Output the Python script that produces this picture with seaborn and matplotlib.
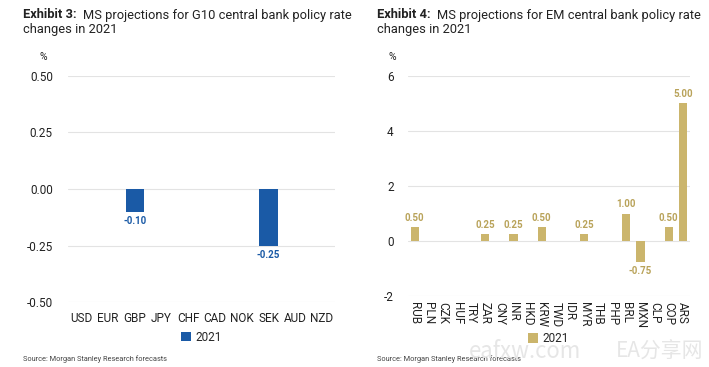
import pandas as pd
import seaborn as sns
import matplotlib.pyplot as plt

# --------------------------
# Data
# --------------------------
g10_ccy = ["USD", "EUR", "GBP", "JPY", "CHF", "CAD", "NOK", "SEK", "AUD", "NZD"]
g10_chg = [0, 0, -0.10, 0, 0, 0, 0, -0.25, 0, 0]

em_ccy = ["RUB", "PLN", "CZK", "HUF", "TRY", "ZAR", "CNY", "INR", "HKD", "KRW",
          "TWD", "IDR", "MYR", "THB", "PHP", "BRL", "MXN", "CLP", "COP", "ARS"]
em_chg = [0.50, 0, 0, 0, 0, 0.25, 0, 0.25, 0, 0.50,
          0, 0, 0.25, 0, 0, 1.00, -0.75, 0, 0.50, 5.00]

g10_yticks = [-0.50, -0.25, 0.00, 0.25, 0.50]
em_yticks = [-2, 0, 2, 4, 6]

BLUE = "#1a5aa6"
GOLD = "#cbb56c"
GOLD_TXT = "#b9a35a"

sns.set_style("white")
plt.rcParams["font.family"] = ["Roboto", "DejaVu Sans"]

fig = plt.figure(figsize=(7.09, 3.67), dpi=100)
ax1 = fig.add_axes([0.096, 0.177, 0.377, 0.616])
ax2 = fig.add_axes([0.575, 0.193, 0.398, 0.600])


def draw_panel(ax, cats, vals, color, txtcolor, yticks, fmt, width, rot, xpad, ypad):
    df = pd.DataFrame({"ccy": cats, "chg": vals, "year": "2021"})
    sns.barplot(data=df, x="ccy", y="chg", hue="year", palette=[color],
                width=width, ax=ax, saturation=1, linewidth=0)
    ax.set_ylim(yticks[0], yticks[-1])
    ax.set_yticks(yticks)
    ax.set_yticklabels([fmt.format(t) for t in yticks])
    ax.set_xlim(-0.5, len(cats) - 0.5)
    ax.set_xlabel("")
    ax.set_ylabel("")
    ax.grid(axis="y", color="#e3e3e3", linewidth=0.8)
    ax.set_axisbelow(True)
    sns.despine(ax=ax, left=True, bottom=True)
    ax.tick_params(axis="y", length=0, pad=ypad, labelsize=8.5, labelcolor="#222222")
    ax.tick_params(axis="x", length=0, pad=xpad, labelsize=8.5, labelcolor="#222222",
                   labelrotation=rot)
    labels = [f"{v:.2f}" if v != 0 else "" for v in vals]
    ax.bar_label(ax.containers[0], labels=labels, padding=3, color=txtcolor,
                 fontsize=7, fontweight="bold")
    return ax


draw_panel(ax1, g10_ccy, g10_chg, BLUE, BLUE, g10_yticks, "{:.2f}", 0.68, 0, 7, 11)
draw_panel(ax2, em_ccy, em_chg, GOLD, GOLD_TXT, em_yticks, "{:d}", 0.58, -90, 4, 10)

sns.move_legend(ax1, "upper center", bbox_to_anchor=(0.5, -0.08), frameon=False,
                title=None, fontsize=8.5, handlelength=0.8, handleheight=0.8,
                handletextpad=0.4)
sns.move_legend(ax2, "upper center", bbox_to_anchor=(0.5, -0.115), frameon=False,
                title=None, fontsize=8.5, handlelength=0.8, handleheight=0.8,
                handletextpad=0.4)

# titles
for x0, num, rest in [(23, "3", "G10"), (377, "4", "EM")]:
    fig.text(x0 / 709, 1 - 15 / 367, f"Exhibit {num}:", fontsize=9.3,
             fontweight="bold", color="#222222", va="center")
    fig.text((x0 + 60) / 709, 1 - 15 / 367,
             f"MS projections for {rest} central bank policy rate",
             fontsize=9.3, color="#222222", va="center")
    fig.text(x0 / 709, 1 - 30 / 367, "changes in 2021", fontsize=9.3,
             color="#222222", va="center")
    fig.text(x0 / 709, 1 - 359 / 367, "Source: Morgan Stanley Research forecasts",
             fontsize=5.3, color="#444444", va="center")

fig.text(43 / 709, 1 - 57 / 367, "%", fontsize=7.5, color="#222222", ha="center", va="center")
fig.text(392 / 709, 1 - 57 / 367, "%", fontsize=7.5, color="#222222", ha="center", va="center")

# watermark
wm_font = ["Noto Sans CJK SC", "DejaVu Sans"]
fig.text(525 / 709, 1 - 352 / 367, "eafxw.com", fontsize=16, color="#e6e6e6",
         ha="center", va="center", family=wm_font)
fig.text(660 / 709, 1 - 352 / 367, "EA分享网", fontsize=15, color="#e6e6e6",
         ha="center", va="center", family=wm_font)

fig.savefig("out.png", dpi=100)
